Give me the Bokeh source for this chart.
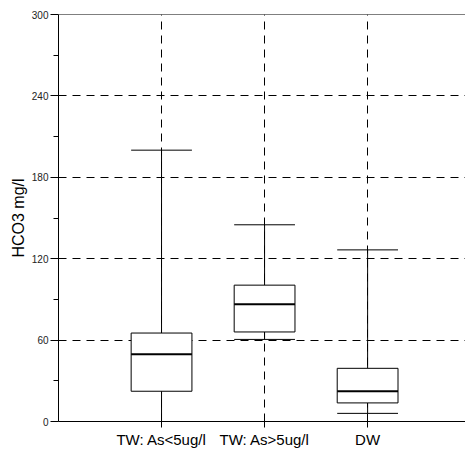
from bokeh.plotting import figure
from bokeh.models import FixedTicker, Range1d, Span
from bokeh.embed import file_html
from bokeh.resources import INLINE

categories = ["TW: As<5ug/l", "TW: As>5ug/l", "DW"]
positions = [1, 2, 3]
whisker_low = [0, 60.5, 6]
q1 = [22.3, 66, 13.7]
median = [49.5, 86.5, 22.3]
q3 = [65.2, 100.5, 39.2]
whisker_high = [200, 145, 126.5]
y_ticks = [0, 60, 120, 180, 240, 300]
y_minor = [30, 90, 150, 210, 270]

FONT = "Liberation Sans"
half = 0.295

p = figure(width=465, height=450, output_backend="svg", toolbar_location=None,
           x_range=Range1d(0, 3.95), y_range=Range1d(0, 300),
           min_border_left=58, min_border_right=0, min_border_top=14, min_border_bottom=28)
p.outline_line_color = None
p.background_fill_color = "white"
p.border_fill_color = "white"

# grid
p.xgrid.ticker = FixedTicker(ticks=positions)
p.ygrid.ticker = FixedTicker(ticks=[60, 120, 180, 240])
for g in (p.xgrid, p.ygrid):
    g.grid_line_color = "black"
    g.grid_line_dash = "8 6"
    g.grid_line_width = 1

# y axis
p.yaxis.ticker = FixedTicker(ticks=y_ticks, minor_ticks=y_minor)
p.yaxis.axis_label = "HCO3 mg/l"
p.yaxis.axis_label_text_font = FONT
p.yaxis.axis_label_text_font_size = "16px"
p.yaxis.axis_label_text_font_style = "normal"
p.yaxis.axis_label_text_color = "black"
p.yaxis.axis_label_standoff = 2
p.yaxis.major_label_text_font = FONT
p.yaxis.major_label_text_font_size = "10px"
p.yaxis.major_label_text_color = "#222222"
p.yaxis.major_label_standoff = 2
p.yaxis.major_tick_out = 8
p.yaxis.major_tick_in = 0
p.yaxis.minor_tick_out = 5
p.yaxis.minor_tick_in = 0
p.yaxis.axis_line_color = "black"

# x axis
p.xaxis.ticker = FixedTicker(ticks=positions)
p.xaxis.major_label_overrides = {pos: c for pos, c in zip(positions, categories)}
p.xaxis.major_label_text_font = FONT
p.xaxis.major_label_text_font_size = "15px"
p.xaxis.major_label_text_color = "black"
p.xaxis.major_label_standoff = 3
p.xaxis.major_tick_out = 6
p.xaxis.major_tick_in = 0
p.xaxis.minor_tick_line_color = None
p.xaxis.axis_line_color = "black"

# top border
p.add_layout(Span(location=300, dimension="width", line_color="black", line_width=1.2))

left = [x - half for x in positions]
right = [x + half for x in positions]

# whiskers
p.segment(positions, q3, positions, whisker_high, line_color="black", line_width=1)
p.segment(positions, whisker_low, positions, q1, line_color="black", line_width=1)
# caps
p.segment(left, whisker_high, right, whisker_high, line_color="black", line_width=1)
p.segment(left, whisker_low, right, whisker_low, line_color="black", line_width=1)
# boxes
p.quad(left=left, right=right, bottom=q1, top=q3, fill_color="white",
       line_color="black", line_width=1)
# medians
p.segment(left, median, right, median, line_color="black", line_width=2)

open("out.html", "w").write(file_html(p, INLINE))
